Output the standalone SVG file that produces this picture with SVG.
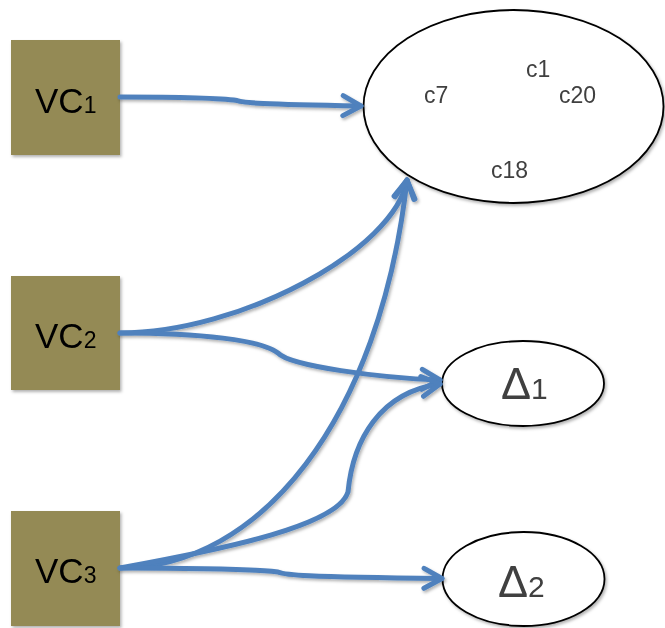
<svg xmlns="http://www.w3.org/2000/svg" width="665" height="628" viewBox="0 0 665 628">
  <style>
    .box { fill: #948A54; }
    .vc { font-family: "Liberation Sans", Arial, sans-serif; fill: #000; }
    .ell { fill: #fff; stroke: #000; stroke-width: 1.8; }
    .lbl { font-family: "Liberation Sans", Arial, sans-serif; fill: #404040; font-size: 23px; }
    .delta { font-family: "Liberation Sans", Arial, sans-serif; fill: #404040; }
    .edge { fill: none; stroke: #4F81BD; stroke-width: 5; stroke-linecap: round; stroke-linejoin: round; marker-end: url(#arr); }
  </style>
  <defs>
    <filter id="sh" x="-10%" y="-10%" width="130%" height="130%">
      <feDropShadow dx="1.5" dy="2" stdDeviation="1.5" flood-color="#000" flood-opacity="0.3"/>
    </filter>
    <marker id="arr" markerUnits="userSpaceOnUse" viewBox="-22 -13 26 26" refX="0" refY="0" markerWidth="26" markerHeight="26" orient="auto">
      <path d="M-18,-10 L0,0 L-18,10" fill="none" stroke="#4F81BD" stroke-width="5" stroke-linecap="round" stroke-linejoin="round"/>
    </marker>
  </defs>

  <g id="nodes">
    <g id="vc1" filter="url(#sh)">
      <rect class="box" x="11" y="40" width="109" height="115"/>
      <text class="vc" x="35" y="112.5"><tspan font-size="35">VC</tspan><tspan font-size="23">1</tspan></text>
    </g>
    <g id="vc2" filter="url(#sh)">
      <rect class="box" x="11" y="276" width="109" height="114"/>
      <text class="vc" x="35" y="347.5"><tspan font-size="35">VC</tspan><tspan font-size="23">2</tspan></text>
    </g>
    <g id="vc3" filter="url(#sh)">
      <rect class="box" x="11" y="511" width="109" height="115"/>
      <text class="vc" x="35" y="583"><tspan font-size="35">VC</tspan><tspan font-size="23">3</tspan></text>
    </g>
    <g id="cluster" filter="url(#sh)">
      <ellipse class="ell" cx="513.5" cy="106.5" rx="150" ry="96.5"/>
      <text class="lbl" x="526" y="77">c1</text>
      <text class="lbl" x="424" y="103">c7</text>
      <text class="lbl" x="559" y="103">c20</text>
      <text class="lbl" x="491" y="178">c18</text>
    </g>
    <g id="delta1" filter="url(#sh)">
      <ellipse class="ell" cx="523" cy="383.5" rx="81" ry="42.5"/>
      <text class="delta" x="501" y="399"><tspan font-size="45">Δ</tspan><tspan font-size="30">1</tspan></text>
    </g>
    <g id="delta2" filter="url(#sh)">
      <ellipse class="ell" cx="523.5" cy="579" rx="81" ry="47"/>
      <text class="delta" x="498" y="597"><tspan font-size="45">Δ</tspan><tspan font-size="30">2</tspan></text>
    </g>
  </g>

  <g id="connectors" filter="url(#sh)">
    <path class="edge" d="M120,97 C180,97 220,98 237,100.5 C243,103 260,104 361,106"/>
    <path class="edge" d="M120,333 C240,333 395,250 407,180"/>
    <path class="edge" d="M120,568 C260,568 380,420 407,180"/>
    <path class="edge" d="M120,333 C200,333 262,340 278,353 C290,366 380,378 440,380"/>
    <path class="edge" d="M120,568 C230,548 338,525 348,492 C353,440 380,392 440,384"/>
    <path class="edge" d="M120,568 C200,568 260,570 278,572 C285,575 300,577 442,578.5"/>
  </g>
</svg>
